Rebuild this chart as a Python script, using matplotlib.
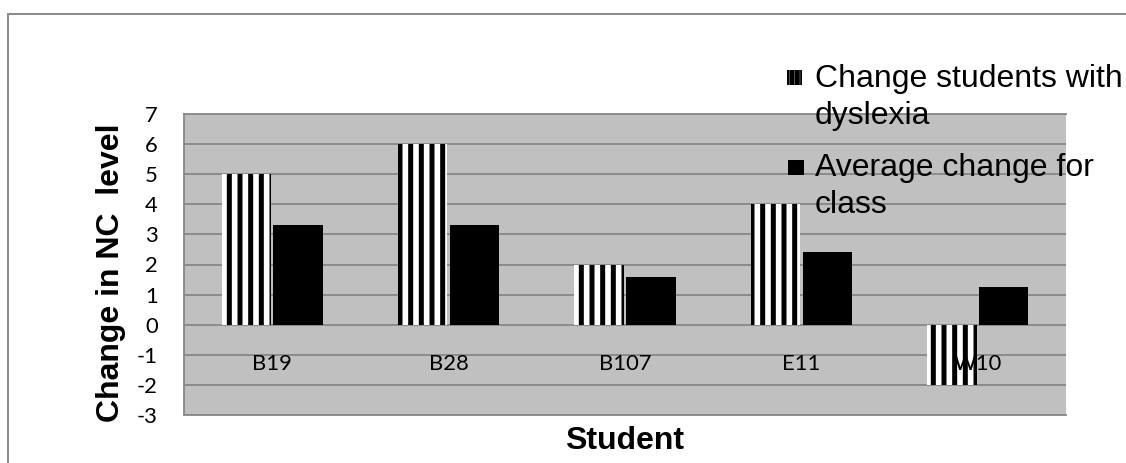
import numpy as np
import matplotlib
matplotlib.use('Agg')
import matplotlib.pyplot as plt
from matplotlib.patches import Rectangle

# ---- data ----
students = ['B19', 'B28', 'B107', 'E11', 'W10']
change_dyslexia = [5, 6, 2, 4, -2]
class_average = [3.3, 3.3, 1.6, 2.4, 1.25]
series_labels = ['Change students with\ndyslexia', 'Average change for\nclass']
y_ticks = [-3, -2, -1, 0, 1, 2, 3, 4, 5, 6, 7]
x_title = 'Student'
y_title = 'Change in NC  level'

# ---- layout helpers (pixels) ----
DPI = 64
W, H = 1126, 463
PT = 72 / DPI  # points per pixel

plt.rcParams['hatch.linewidth'] = 5 * PT
plt.rcParams['hatch.color'] = 'black'

GRID = '#878787'
TICK_FONT = 'Lato'
TITLE_FONT = 'Liberation Sans'
TITLE_PX = 32

fig = plt.figure(figsize=(W / DPI, H / DPI), dpi=DPI)
fig.patch.set_facecolor('white')

L, R, T, B = 184, 1066, 114, 415
ax = fig.add_axes([L / W, (H - B) / H, (R - L) / W, (B - T) / H])
ax.set_facecolor('#c0c0c0')

# spines first (moving a spine resets its axis ticks)
ax.spines['bottom'].set_position(('data', 0))
ax.spines['bottom'].set_visible(False)
ax.spines['right'].set_visible(False)
for s in ('top', 'left'):
    ax.spines[s].set_color(GRID)
    ax.spines[s].set_linewidth(1.8 * PT)

x = np.arange(len(students))
bw = 0.28
off = 0.147
ax.bar(x - off, change_dyslexia, bw, facecolor='white', edgecolor='black',
       linewidth=0, hatch='|', zorder=2)
ax.bar(x + off, class_average, bw, color='black', linewidth=0, zorder=2)

ax.set_xlim(-0.5, len(students) - 0.5)
ax.set_ylim(y_ticks[0], y_ticks[-1])
ax.set_yticks(y_ticks)
ax.set_yticklabels([str(v) for v in y_ticks], fontfamily=TICK_FONT, fontsize=22 * PT)
ax.set_xticks(x)
ax.set_xticklabels(students, fontfamily=TICK_FONT, fontsize=22 * PT)

ax.grid(axis='y', color=GRID, linewidth=1.8 * PT)
ax.set_axisbelow(True)
ax.xaxis.set_zorder(3)

ax.tick_params(axis='y', length=0, pad=26 * PT)
ax.tick_params(axis='x', length=0, pad=29 * PT)

ax.axhline(y_ticks[0], color=GRID, linewidth=1.8 * PT, clip_on=False, zorder=1)

# axis titles
ax.set_ylabel(y_title, fontfamily=TITLE_FONT, fontweight='bold', fontsize=TITLE_PX * PT,
              ha='center', va='center', rotation=90, rotation_mode='default')
ax.yaxis.set_label_coords((111 - L) / (R - L), (B - 273) / (B - T))
ax.set_xlabel(x_title, fontfamily=TITLE_FONT, fontweight='bold', fontsize=TITLE_PX * PT,
              ha='center', va='center')
ax.xaxis.set_label_coords(0.5, (B - 441) / (B - T))

# legend (manual, to match placement)
def fx(px):
    return px / W

def fy(py):
    return 1 - py / H

marker_boxes = [(787, 70, 15, 15), (788, 160, 16, 15)]
last_line_baselines = [124, 213]
for i, lab in enumerate(series_labels):
    mx, my, mw, mh = marker_boxes[i]
    if i == 0:
        rect = Rectangle((fx(mx), fy(my + mh)), mw / W, mh / H, transform=fig.transFigure,
                         facecolor='white', edgecolor='black', linewidth=0, hatch='||')
    else:
        rect = Rectangle((fx(mx), fy(my + mh)), mw / W, mh / H, transform=fig.transFigure,
                         facecolor='black', edgecolor='black', linewidth=0)
    fig.patches.append(rect)
    fig.text(fx(815), fy(last_line_baselines[i]), lab, ha='left', va='baseline',
             fontfamily=TITLE_FONT, fontsize=TITLE_PX * PT, linespacing=1.315)

# outer chart frame
frame = Rectangle((fx(8), -0.5), 1.5, fy(14) + 0.5, transform=fig.transFigure,
                  fill=False, edgecolor='#8c8c8c', linewidth=2 * PT, clip_on=False)
fig.patches.append(frame)

fig.savefig('out.png', dpi=DPI)
